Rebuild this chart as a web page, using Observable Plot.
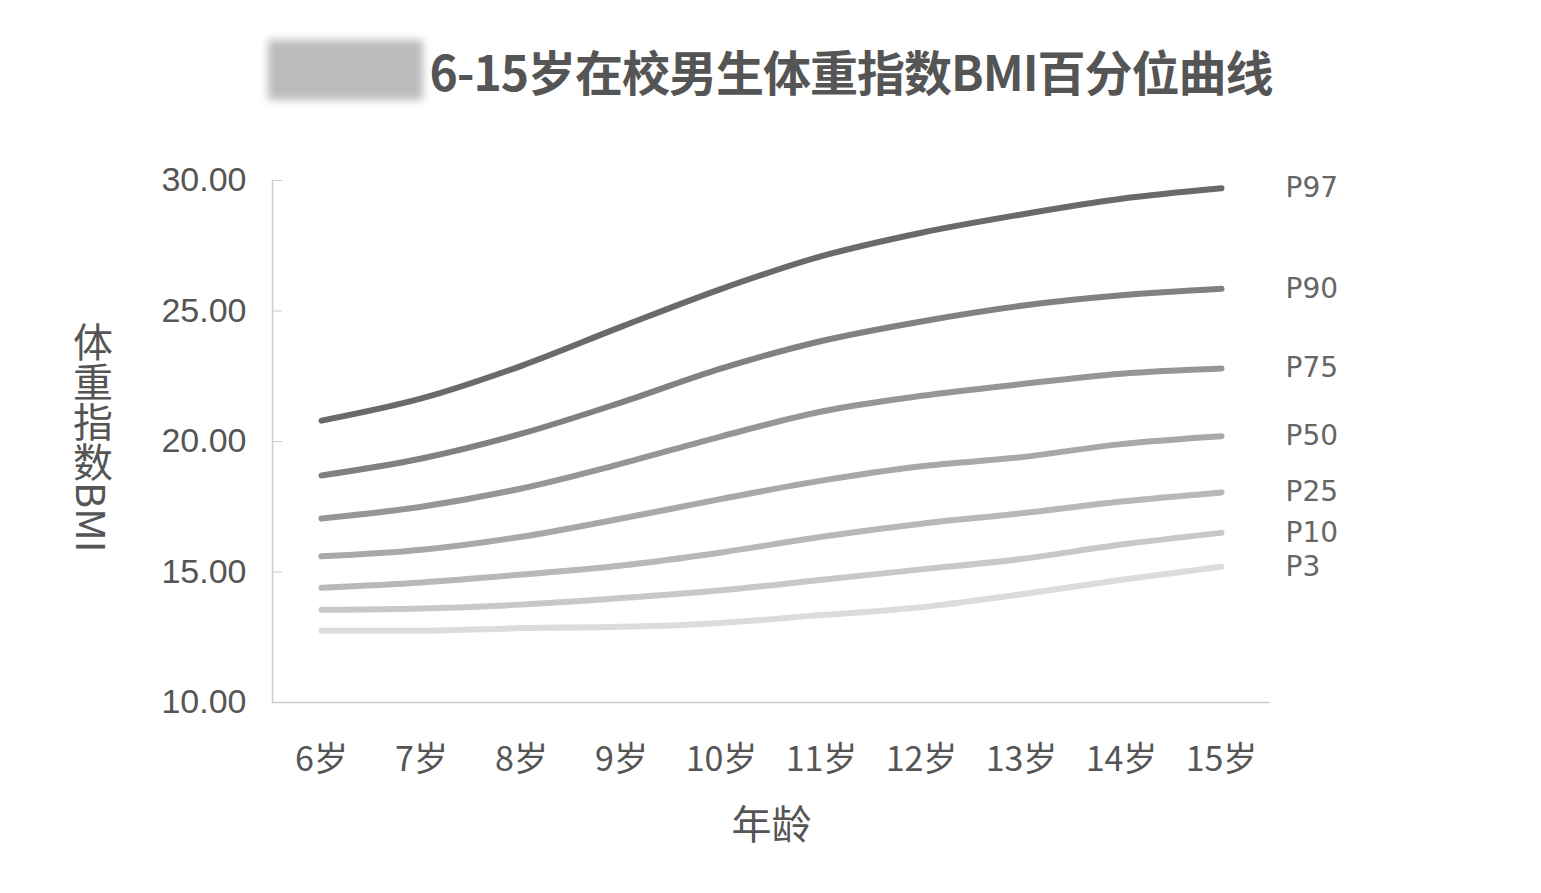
<!DOCTYPE html>
<html>
<head>
<meta charset="utf-8">
<script src="https://cdn.jsdelivr.net/npm/d3@7"></script>
<script src="https://cdn.jsdelivr.net/npm/@observablehq/plot@0.6"></script>
<style>
  body { margin: 0; background: #fff; font-family: "Noto Sans CJK SC", sans-serif; }
  #wrap { position: relative; width: 1541px; }
  #title { height: 140px; display: flex; align-items: center; justify-content: center; padding-top: 0; font-size: 48px; font-weight: bold; color: #555; letter-spacing: -1px; }
  #title .blur { display: inline-block; width: 155px; height: 60px; background: #bbb; filter: blur(4px); margin-right: 6px; }
  #ylab { position: absolute; left: 64px; top: 322px; writing-mode: vertical-rl; font-size: 40px; color: #555; }
</style>
</head>
<body>
<div id="wrap">
  <div id="title"><span class="blur"></span>6-15岁在校男生体重指数BMI百分位曲线</div>
  <div id="ylab">体重指数BMI</div>
  <div id="chart"></div>
</div>
<script>
/* global d3, Plot */
const ages = ['6岁', '7岁', '8岁', '9岁', '10岁', '11岁', '12岁', '13岁', '14岁', '15岁'];
const p97 = [20.8, 21.65, 22.9, 24.4, 25.85, 27.1, 28.0, 28.7, 29.3, 29.7];
const p90 = [18.7, 19.35, 20.3, 21.5, 22.8, 23.85, 24.6, 25.2, 25.6, 25.85];
const p75 = [17.05, 17.5, 18.2, 19.15, 20.2, 21.15, 21.75, 22.2, 22.6, 22.8];
const p50 = [15.6, 15.85, 16.35, 17.05, 17.8, 18.5, 19.05, 19.4, 19.9, 20.2];
const p25 = [14.4, 14.6, 14.9, 15.25, 15.75, 16.35, 16.85, 17.25, 17.7, 18.05];
const p10 = [13.55, 13.6, 13.75, 14.0, 14.3, 14.7, 15.1, 15.5, 16.05, 16.5];
const p3 = [12.75, 12.75, 12.85, 12.9, 13.05, 13.35, 13.65, 14.15, 14.7, 15.2];

const series = [
  { name: 'P97', values: p97, color: '#6a6a6a' },
  { name: 'P90', values: p90, color: '#818181' },
  { name: 'P75', values: p75, color: '#969696' },
  { name: 'P50', values: p50, color: '#a8a8a8' },
  { name: 'P25', values: p25, color: '#b8b8b8' },
  { name: 'P10', values: p10, color: '#c8c8c8' },
  { name: 'P3', values: p3, color: '#dcdcdc' }
];
const rows = series.flatMap(s => s.values.map((v, i) => ({ age: ages[i], bmi: v, name: s.name })));
const last = series.map(s => ({ age: ages[ages.length - 1], bmi: s.values[s.values.length - 1], name: s.name }));

const chart = Plot.plot({
  width: 1541,
  height: 740,
  marginLeft: 272,
  marginRight: 271,
  marginTop: 40,
  marginBottom: 178,
  style: { fontFamily: '"Liberation Sans", "Noto Sans CJK SC", sans-serif', fontSize: '34px', color: '#555' },
  x: { type: 'point', domain: ages, padding: 0.49, label: null },
  y: { domain: [10, 30], ticks: [10, 15, 20, 25, 30], label: null },
  color: { domain: series.map(s => s.name), range: series.map(s => s.color) },
  marks: [
    Plot.frame({ anchor: 'left', stroke: '#ccc', strokeWidth: 1.5 }),
    Plot.ruleY([10], { stroke: '#ccc', strokeWidth: 1.5 }),
    Plot.axisY({ ticks: [10, 15, 20, 25, 30], tickFormat: d3.format('.2f'), tickSize: -10, stroke: '#ccc', tickPadding: 36, fill: '#555' }),
    Plot.axisX({ tickSize: 0, tickPadding: 44, fill: '#555', fontFamily: '"Noto Sans CJK SC", sans-serif' }),
    Plot.line(rows, { x: 'age', y: 'bmi', z: 'name', stroke: 'name', strokeWidth: 6, curve: 'monotone-x' }),
    Plot.text(last, { x: 'age', y: 'bmi', text: 'name', dx: 64, textAnchor: 'start', fill: '#666', fontSize: 28, fontFamily: '"DejaVu Sans", sans-serif' }),
    Plot.text(['年龄'], { frameAnchor: 'bottom', dy: 136, fill: '#555', fontSize: 40, fontFamily: '"Noto Sans CJK SC", sans-serif' })
  ]
});
document.getElementById('chart').append(chart);
</script>
</body>
</html>
